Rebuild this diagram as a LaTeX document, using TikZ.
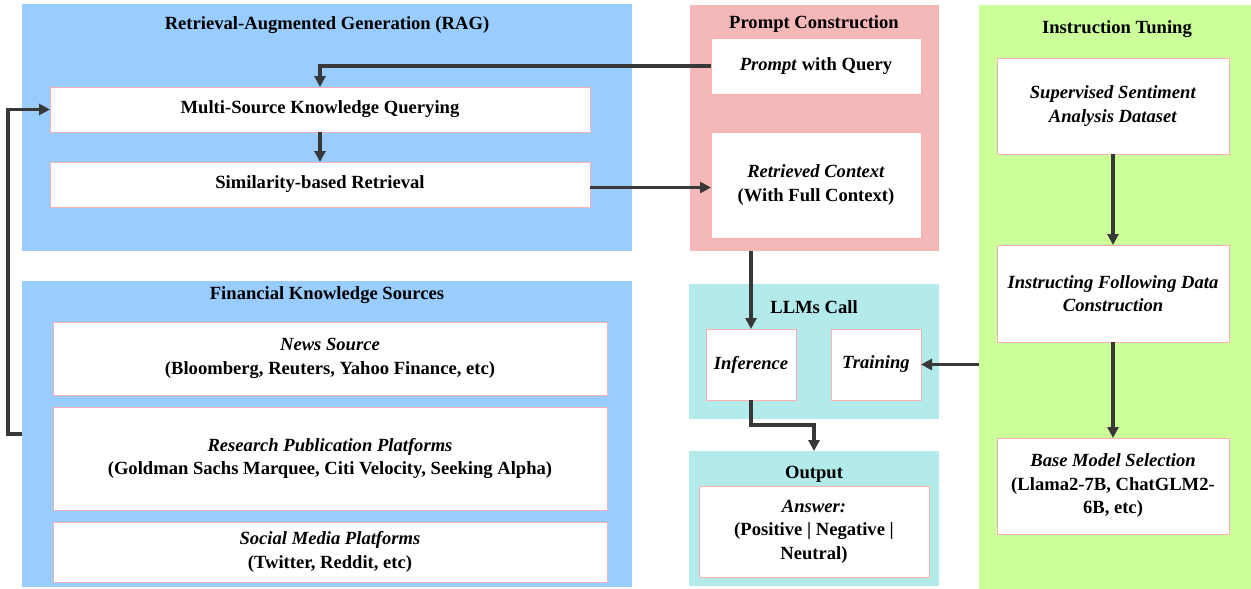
\documentclass[tikz,border=0pt]{standalone}
\usepackage{fontspec}
\setmainfont{Liberation Serif}
\usetikzlibrary{arrows.meta}
\definecolor{ragblue}{HTML}{99CCFF}
\definecolor{pcpink}{HTML}{F5B8B8}
\definecolor{llmteal}{HTML}{B3EAEA}
\definecolor{itgreen}{HTML}{CCFF99}
\definecolor{wborder}{HTML}{FFB0B0}
\definecolor{arrgray}{HTML}{383838}
\tikzset{
  container/.style={fill=#1, draw=none, anchor=north west, inner sep=0pt, outer sep=0pt},
  wbox/.style={fill=white, draw=wborder, line width=0.9pt, anchor=north west, inner sep=2pt, outer sep=0pt, align=center, font=\fontsize{18.6}{23.5}\selectfont\bfseries},
  ttl/.style={font=\fontsize{18.6}{22}\selectfont\bfseries, inner sep=0pt},
  arr/.style={draw=arrgray, line width=3.2pt, -{Triangle[length=11pt,width=11pt]}},
}
\begin{document}
\begin{tikzpicture}[x=1pt,y=-1pt]
\useasboundingbox (0,0) rectangle (1251,589);
% containers
\node[container=ragblue, minimum width=610pt, minimum height=247pt] (rag) at (22,4) {};
\node[container=ragblue, minimum width=610pt, minimum height=306pt] (fks) at (22,281) {};
\node[container=pcpink, minimum width=249pt, minimum height=246pt] (pc) at (690,5) {};
\node[container=llmteal, minimum width=250pt, minimum height=135pt] (llm) at (689,284) {};
\node[container=llmteal, minimum width=250pt, minimum height=135pt] (outb) at (689,451) {};
\node[container=itgreen, minimum width=272pt, minimum height=584pt] (it) at (979,5) {};
% titles
\node[ttl] (ragt) at (327,25) {Retrieval-Augmented Generation (RAG)};
\node[ttl] (fkst) at (327,295) {Financial Knowledge Sources};
\node[ttl] (pct) at (814,24) {Prompt Construction};
\node[ttl] (llmt) at (814,307) {LLMs Call};
\node[ttl] (outt) at (814,474) {Output};
\node[ttl] (itt) at (1117,29) {Instruction Tuning};
% white boxes
\node[wbox, minimum width=540pt, minimum height=45pt] (msq) at (50,87) {Multi-Source Knowledge Querying};
\node[wbox, minimum width=540pt, minimum height=45pt] (sim) at (50,162) {Similarity-based Retrieval};
\node[wbox, minimum width=554pt, minimum height=73pt] (news) at (53,322) {\textit{News Source}\\(Bloomberg, Reuters, Yahoo Finance, etc)};
\node[wbox, minimum width=554pt, minimum height=103pt] (res) at (53,407) {\textit{Research Publication Platforms}\\(Goldman Sachs Marquee, Citi Velocity, Seeking Alpha)};
\node[wbox, minimum width=554pt, minimum height=60pt] (soc) at (53,522) {\textit{Social Media Platforms}\\(Twitter, Reddit, etc)};
\node[wbox, minimum width=210pt, minimum height=56pt] (pwq) at (711,38) {\textit{Prompt} with Query};
\node[wbox, minimum width=210pt, minimum height=106pt] (rc) at (711,132) {\textit{Retrieved Context}\\(With Full Context)};
\node[wbox, minimum width=90pt, minimum height=71pt] (inf) at (706,329) {\textit{Inference}};
\node[wbox, minimum width=90pt, minimum height=71pt] (trn) at (831,329) {\textit{Training}};
\node[wbox, minimum width=230pt, minimum height=91pt] (ans) at (699,486) {\textit{Answer:}\\(Positive | Negative |\\Neutral)};
\node[wbox, minimum width=232pt, minimum height=96pt] (sup) at (997,58) {\textit{Supervised Sentiment}\\\textit{Analysis Dataset}};
\node[wbox, minimum width=232pt, minimum height=97pt] (ifd) at (997,245) {\textit{Instructing Following Data}\\\textit{Construction}};
\node[wbox, minimum width=232pt, minimum height=96pt] (bms) at (997,438) {\textit{Base Model Selection}\\(Llama2-7B, ChatGLM2-\\6B, etc)};
% connectors
\coordinate (s1) at ([yshift=-3pt]sim.east);
\draw[arr] (pwq.west) -| (msq.north);
\draw[arr] (msq.south) -- (sim.north);
\draw[arr] (s1) -- (rc.west |- s1);
\draw[arr] (fks.west) -- ++(-14,0) |- (msq.west);
\draw[arr] (pc.south -| inf.north) -- (inf.north);
\draw[arr] (inf.south) -- ++(0,25) -| (outb.north);
\draw[arr] (it.west |- trn.east) -- (trn.east);
\draw[arr] (sup.south) -- (ifd.north);
\draw[arr] (ifd.south) -- (bms.north);
\end{tikzpicture}
\end{document}
